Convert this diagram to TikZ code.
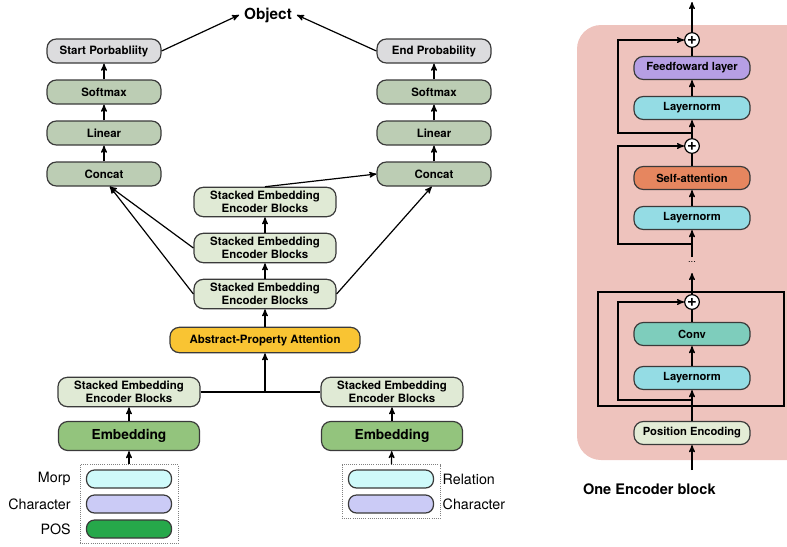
\documentclass[tikz,border=0pt]{standalone}
\usepackage{fontspec}
\setmainfont{TeX Gyre Heros}
\usetikzlibrary{arrows,shapes,positioning,fit}

\definecolor{stageC}{HTML}{BCCDB4}
\definecolor{probC}{HTML}{DCDCDE}
\definecolor{stackC}{HTML}{E0EAD5}
\definecolor{attnC}{HTML}{F9C433}
\definecolor{embC}{HTML}{93C47D}
\definecolor{morpC}{HTML}{CFFAFA}
\definecolor{charC}{HTML}{CBCBF6}
\definecolor{posC}{HTML}{26A84A}
\definecolor{pinkC}{HTML}{EEC3BD}
\definecolor{ffC}{HTML}{B69FE4}
\definecolor{lnC}{HTML}{94DCE4}
\definecolor{saC}{HTML}{E6865F}
\definecolor{convC}{HTML}{7ECDBC}
\definecolor{peC}{HTML}{E3ECD6}
\definecolor{edgeC}{HTML}{3A3A3A}

\begin{document}
\begin{tikzpicture}[x=0.75pt,y=-0.75pt,>=stealth',line width=0.9pt,node distance=30.75pt,
    box/.style={draw=edgeC,line width=0.9pt,rounded corners=7pt,align=center,inner sep=0pt,
        font=\bfseries\fontsize{8.6}{10}\selectfont},
    stage/.style={box,fill=stageC,minimum width=85.5pt,minimum height=18pt},
    prob/.style={box,fill=probC,minimum width=85.5pt,minimum height=18pt},
    stack/.style={box,fill=stackC,minimum width=106.5pt,minimum height=22pt},
    attn/.style={box,fill=attnC,minimum width=142.5pt,minimum height=19pt},
    emb/.style={box,fill=embC,minimum width=105.75pt,minimum height=21.75pt,
        font=\bfseries\fontsize{10.3}{12}\selectfont},
    pill/.style={draw=edgeC,line width=0.9pt,rounded corners=6pt,minimum width=63.75pt,
        minimum height=13.5pt,inner sep=0pt},
    inbox/.style={draw=gray,densely dotted,line width=0.6pt,inner xsep=4.5pt,inner ysep=3.5pt},
    lab/.style={font=\fontsize{10.7}{12}\selectfont,inner sep=0pt},
    rbox/.style={box,minimum width=87pt,minimum height=17.25pt,font=\bfseries\fontsize{8.4}{10}\selectfont},
    plus/.style={circle,draw=black,fill=white,line width=0.9pt,minimum size=11pt,inner sep=0pt,
        font=\bfseries\fontsize{12.5}{12.5}\selectfont}
]
        \useasboundingbox (0,0) rectangle (787,546);

        % output columns
        \node[stage] (concatL) at (104,174) {Concat};
        \node[stage] (linearL) [above of=concatL] {Linear};
        \node[stage] (softmaxL) [above of=linearL] {Softmax};
        \node[prob] (startP) [above of=softmaxL] {Start Porbabliity};

        \node[stage] (concatR) [right of=concatL, node distance=247.5pt] {Concat};
        \node[stage] (linearR) [above of=concatR] {Linear};
        \node[stage] (softmaxR) [above of=linearR] {Softmax};
        \node[prob] (endP) [above of=softmaxR] {End Probability};

        \node[font=\bfseries\fontsize{11.5}{13}\selectfont] (object) at (268,15) {Object};

        % middle stack
        \node[stack] (seb3) at (265,202) {Stacked Embedding\\Encoder Blocks};
        \node[stack] (seb2) [below of=seb3, node distance=34.5pt] {Stacked Embedding\\Encoder Blocks};
        \node[stack] (seb1) [below of=seb2, node distance=34.5pt] {Stacked Embedding\\Encoder Blocks};
        \node[attn] (attn) [below of=seb1, node distance=34.5pt] {Abstract-Property Attention};

        % two input branches
        \node[stack] (stackL) at (129,392) {Stacked Embedding\\Encoder Blocks};
        \node[emb] (embL) [below of=stackL, node distance=33pt] {Embedding};
        \node[stack] (stackR) at (392,392) {Stacked Embedding\\Encoder Blocks};
        \node[emb] (embR) [below of=stackR, node distance=33pt] {Embedding};

        \node[pill,fill=morpC] (morpL) at (129,479) {};
        \node[pill,fill=charC] (charL) [below of=morpL, node distance=18.75pt] {};
        \node[pill,fill=posC] (posL) [below of=charL, node distance=18.75pt] {};
        \node[inbox, fit=(morpL)(posL)] (inL) {};
        \node[lab, left=11pt of morpL] {Morp};
        \node[lab, left=11pt of charL] {Character};
        \node[lab, left=11pt of posL] {POS};

        \node[pill,fill=morpC] (relR) at (391,479) {};
        \node[pill,fill=charC] (charR) [below of=relR, node distance=18.75pt] {};
        \node[inbox, fit=(relR)(charR)] (inR) {};
        \node[lab, right=6pt of relR] {Relation};
        \node[lab, right=6pt of charR] {Character};

        \path[->]
        (inL)        edge                (embL)
        (embL)       edge                (stackL)
        (inR)        edge                (embR)
        (embR)       edge                (stackR)
        (attn)       edge                (seb1)
        (seb1)       edge                (seb2)
        (seb2)       edge                (seb3)
        (seb2.west)  edge                (concatL.-65)
        (seb1.west)  edge                (concatL.-65)
        (seb1.east)  edge                (concatR.-100)
        (seb3.north) edge                (concatR.west)
        (concatL)    edge                (linearL)
        (linearL)    edge                (softmaxL)
        (softmaxL)   edge                (startP)
        (concatR)    edge                (linearR)
        (linearR)    edge                (softmaxR)
        (softmaxR)   edge                (endP)
        (startP.east) edge               (object.west)
        (endP.west)  edge                (object.east)
        ;
        \draw (stackL.east) -- (stackR.west);
        \draw[->] (attn.south |- stackL.east) -- (attn);

        % encoder block
        \fill[pinkC, rounded corners=18pt] (577,25) rectangle (815,460);
        \node[rbox,fill=peC] (posEnc) at (692,433) {Position Encoding};
        \node[rbox,fill=lnC] (ln3) at (692,378) {Layernorm};
        \node[rbox,fill=convC] (conv) [above of=ln3, node distance=33pt] {Conv};
        \node[plus] (plus3) at (692,302) {+};
        \draw (598,292) rectangle (784,406);
        \node[font=\fontsize{7}{7}\selectfont] (dots) at (692,262) {...};
        \node[rbox,fill=lnC] (ln2) at (692,218) {Layernorm};
        \node[rbox,fill=saC] (sa) [above of=ln2, node distance=30pt] {Self-attention};
        \node[plus] (plus2) at (692,146) {+};
        \node[rbox,fill=lnC] (ln1) at (692,108) {Layernorm};
        \node[rbox,fill=ffC] (ff) [above of=ln1, node distance=30pt] {Feedfoward layer};
        \node[plus] (plus1) at (692,40) {+};
        \node[anchor=west,font=\bfseries\fontsize{10.9}{13}\selectfont] (caption) at (578,489) {One Encoder block};

        \coordinate (inPE) at (692,470);
        \coordinate (skip3) at (692,400);
        \coordinate (dotsIn) at (692,273);
        \coordinate (dotsOut) at (692,257);
        \coordinate (skip2) at (692,244);
        \coordinate (skip1) at (692,133);
        \coordinate (out) at (692,2);

        \draw[->] (inPE) -- (posEnc);
        \draw[->] (posEnc) -- (ln3);
        \draw[->] (ln3) -- (conv);
        \draw (conv) -- (plus3);
        \draw[->] (skip3) -- ++(-74,0) |- (plus3);
        \draw[->] (plus3) -- (dotsIn);
        \draw[->] (dotsOut) -- (ln2);
        \draw[->] (skip2) -- ++(-74,0) |- (plus2);
        \draw[->] (ln2) -- (sa);
        \draw (sa) -- (plus2);
        \draw[->] (plus2) -- (ln1);
        \draw[->] (skip1) -- ++(-74,0) |- (plus1);
        \draw[->] (ln1) -- (ff);
        \draw (ff) -- (plus1);
        \draw[->] (plus1) -- (out);
\end{tikzpicture}
\end{document}
